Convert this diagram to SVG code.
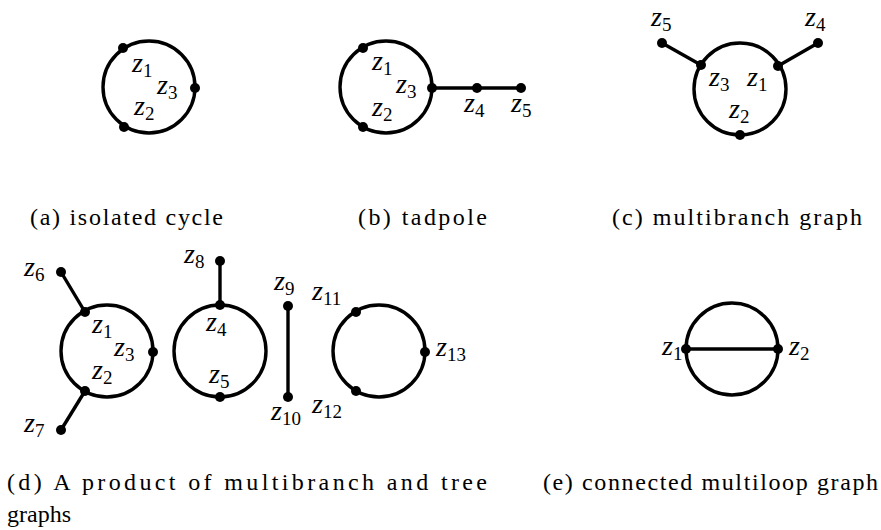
<svg xmlns="http://www.w3.org/2000/svg" width="881" height="530" viewBox="0 0 881 530">
<style>
.c{fill:none;stroke:#000;stroke-width:3.4}
.e{stroke:#000;stroke-width:3.4;fill:none}
.d{fill:#000}
.z{font-style:italic;font-size:28px;fill:#000}
.s{font-style:normal;font-size:19px}
.cap{font-size:24px;fill:#000}
</style>
<rect width="881" height="530" fill="#fff"/>
<g id="connectors">
<circle class="c" cx="149" cy="87" r="46"/>
<circle class="c" cx="386" cy="87" r="46"/>
<line class="e" x1="432" y1="88" x2="521" y2="88"/>
<circle class="c" cx="740" cy="89" r="46"/>
<line class="e" x1="662" y1="43" x2="701" y2="65"/>
<line class="e" x1="778" y1="66" x2="818" y2="43"/>
<circle class="c" cx="107" cy="351" r="46"/>
<line class="e" x1="61" y1="272" x2="85" y2="312"/>
<line class="e" x1="61" y1="430" x2="85" y2="391"/>
<circle class="c" cx="220" cy="351" r="46"/>
<line class="e" x1="220" y1="261" x2="220" y2="305"/>
<line class="e" x1="288" y1="306" x2="288" y2="397"/>
<circle class="c" cx="379" cy="351" r="46"/>
<circle class="c" cx="732" cy="349" r="46"/>
<line class="e" x1="686" y1="349" x2="778" y2="349"/>
</g>
<g font-family="Liberation Serif, DejaVu Serif, serif">
<g id="graph-a">
<circle class="d" cx="123" cy="48" r="5"/>
<circle class="d" cx="195" cy="88" r="5"/>
<circle class="d" cx="124" cy="127" r="5"/>
<text class="z" x="132" y="72">z<tspan class="s" dy="5">1</tspan></text>
<text class="z" x="157" y="94">z<tspan class="s" dy="5">3</tspan></text>
<text class="z" x="134" y="115">z<tspan class="s" dy="5">2</tspan></text>
</g>
<g id="graph-b">
<circle class="d" cx="363" cy="48" r="5"/>
<circle class="d" cx="432" cy="88" r="5"/>
<circle class="d" cx="363" cy="127" r="5"/>
<circle class="d" cx="477" cy="88" r="5"/>
<circle class="d" cx="521" cy="88" r="5"/>
<text class="z" x="372" y="70">z<tspan class="s" dy="5">1</tspan></text>
<text class="z" x="396" y="93">z<tspan class="s" dy="5">3</tspan></text>
<text class="z" x="372" y="116">z<tspan class="s" dy="5">2</tspan></text>
<text class="z" x="464" y="112">z<tspan class="s" dy="5">4</tspan></text>
<text class="z" x="511" y="112">z<tspan class="s" dy="5">5</tspan></text>
</g>
<g id="graph-c">
<circle class="d" cx="662" cy="43" r="5"/>
<circle class="d" cx="701" cy="65" r="5"/>
<circle class="d" cx="778" cy="66" r="5"/>
<circle class="d" cx="818" cy="43" r="5"/>
<circle class="d" cx="740" cy="135" r="5"/>
<text class="z" x="651" y="26">z<tspan class="s" dy="5">5</tspan></text>
<text class="z" x="805" y="26">z<tspan class="s" dy="5">4</tspan></text>
<text class="z" x="709" y="86">z<tspan class="s" dy="5">3</tspan></text>
<text class="z" x="747" y="86">z<tspan class="s" dy="5">1</tspan></text>
<text class="z" x="729" y="118">z<tspan class="s" dy="5">2</tspan></text>
</g>
<g id="graph-d1">
<circle class="d" cx="61" cy="272" r="5"/>
<circle class="d" cx="85" cy="312" r="5"/>
<circle class="d" cx="153" cy="352" r="5"/>
<circle class="d" cx="85" cy="391" r="5"/>
<circle class="d" cx="61" cy="430" r="5"/>
<text class="z" x="24" y="276">z<tspan class="s" dy="5">6</tspan></text>
<text class="z" x="24" y="432">z<tspan class="s" dy="5">7</tspan></text>
<text class="z" x="92" y="333">z<tspan class="s" dy="5">1</tspan></text>
<text class="z" x="114" y="356">z<tspan class="s" dy="5">3</tspan></text>
<text class="z" x="92" y="379">z<tspan class="s" dy="5">2</tspan></text>
</g>
<g id="graph-d2">
<circle class="d" cx="220" cy="261" r="5"/>
<circle class="d" cx="220" cy="305" r="5"/>
<circle class="d" cx="220" cy="397" r="5"/>
<text class="z" x="184" y="263">z<tspan class="s" dy="5">8</tspan></text>
<text class="z" x="206" y="331">z<tspan class="s" dy="5">4</tspan></text>
<text class="z" x="209" y="383">z<tspan class="s" dy="5">5</tspan></text>
</g>
<g id="graph-d3">
<circle class="d" cx="288" cy="306" r="5"/>
<circle class="d" cx="288" cy="397" r="5"/>
<text class="z" x="274" y="290">z<tspan class="s" dy="5">9</tspan></text>
<text class="z" x="271" y="420">z<tspan class="s" dy="5">10</tspan></text>
</g>
<g id="graph-d4">
<circle class="d" cx="356" cy="312" r="5"/>
<circle class="d" cx="356" cy="391" r="5"/>
<circle class="d" cx="425" cy="352" r="5"/>
<text class="z" x="312" y="300">z<tspan class="s" dy="5">11</tspan></text>
<text class="z" x="312" y="413">z<tspan class="s" dy="5">12</tspan></text>
<text class="z" x="436" y="356">z<tspan class="s" dy="5">13</tspan></text>
</g>
<g id="graph-e">
<circle class="d" cx="686" cy="349" r="5"/>
<circle class="d" cx="778" cy="349" r="5"/>
<text class="z" x="662" y="355">z<tspan class="s" dy="5">1</tspan></text>
<text class="z" x="789" y="355">z<tspan class="s" dy="5">2</tspan></text>
</g>
<g id="captions">
<text class="cap" x="30" y="225" textLength="193" lengthAdjust="spacing">(a) isolated cycle</text>
<text class="cap" x="358" y="225" textLength="129" lengthAdjust="spacing">(b) tadpole</text>
<text class="cap" x="612" y="225" textLength="250" lengthAdjust="spacing">(c) multibranch graph</text>
<text class="cap" x="7" y="490" textLength="480" lengthAdjust="spacing">(d) A product of multibranch and tree</text>
<text class="cap" x="7" y="522">graphs</text>
<text class="cap" x="543" y="490" textLength="335" lengthAdjust="spacing">(e) connected multiloop graph</text>
</g>
</g>
</svg>
